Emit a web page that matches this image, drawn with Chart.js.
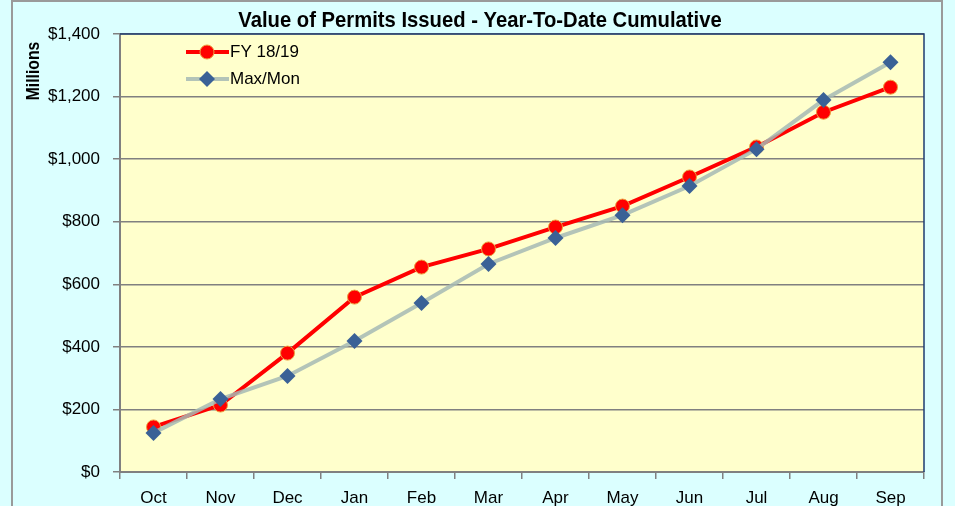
<!DOCTYPE html>
<html>
<head>
<meta charset="utf-8">
<script src="https://cdn.jsdelivr.net/npm/chart.js@4"></script>
<style>
  html, body { margin: 0; padding: 0; background: #dbffff; }
  #wrap { width: 955px; height: 506px; }
</style>
</head>
<body>
<div id="wrap"><canvas id="permitsChart" width="955" height="506"></canvas></div>
<script>
// Data
const months = ['Oct', 'Nov', 'Dec', 'Jan', 'Feb', 'Mar', 'Apr', 'May', 'Jun', 'Jul', 'Aug', 'Sep'];
const fy1819 = [144, 214, 380, 559, 655, 713, 783, 850, 943, 1039, 1150, 1230];
const maxMon = [125, 233, 307, 419, 540, 665, 748, 821, 914, 1032, 1189, 1310];
const chartTitle = 'Value of Permits Issued - Year-To-Date Cumulative';
const yAxisTitle = 'Millions';

const regular = '"Liberation Sans", Arial, sans-serif';

// draws text squeezed horizontally, like Arial Narrow
function narrowText(ctx, text, x, y, squeeze, angle) {
    ctx.save();
    ctx.translate(x, y);
    if (angle) ctx.rotate(angle);
    ctx.scale(squeeze, 1);
    ctx.fillText(text, 0, 0);
    ctx.restore();
}

// background, plot area, frame, title and legend
const frame = {
    id: 'frame',
    beforeDraw(chart) {
        const ctx = chart.ctx;
        const a = chart.chartArea;
        ctx.save();
        ctx.fillStyle = '#dbffff';
        ctx.fillRect(0, 0, chart.width, chart.height);
        ctx.strokeStyle = '#9a9a9a';
        ctx.lineWidth = 2;
        ctx.strokeRect(12, 1, 930, chart.height + 10);
        ctx.fillStyle = '#ffffcc';
        ctx.fillRect(a.left, a.top, a.right - a.left, a.bottom - a.top);
        ctx.restore();
    },
    afterDraw(chart) {
        const ctx = chart.ctx;
        const a = chart.chartArea;
        ctx.save();
        ctx.strokeStyle = '#1f3c70';
        ctx.lineWidth = 1.5;
        ctx.beginPath();
        ctx.moveTo(a.left, a.top);
        ctx.lineTo(a.right, a.top);
        ctx.lineTo(a.right, a.bottom);
        ctx.stroke();

        ctx.fillStyle = '#000';
        ctx.textAlign = 'center';
        ctx.textBaseline = 'middle';
        ctx.font = 'bold 22px ' + regular;
        narrowText(ctx, chartTitle, 480, 21, 0.92);
        ctx.font = 'bold 19px ' + regular;
        narrowText(ctx, yAxisTitle, 34, 71, 0.83, -Math.PI / 2);

        // legend inside plot area
        chart.data.datasets.forEach((ds, i) => {
            const y = a.top + 18 + i * 27;
            const x0 = a.left + 66;
            const cx = x0 + 21;
            ctx.strokeStyle = ds.borderColor;
            ctx.lineWidth = 4;
            ctx.beginPath();
            ctx.moveTo(x0, y);
            ctx.lineTo(x0 + 43, y);
            ctx.stroke();
            ctx.fillStyle = ds.pointBackgroundColor;
            ctx.strokeStyle = ds.pointBorderColor;
            ctx.lineWidth = ds.pointBorderWidth;
            ctx.beginPath();
            if (ds.pointStyle === 'circle') {
                ctx.arc(cx, y, ds.pointRadius, 0, Math.PI * 2);
            } else {
                const r = ds.pointRadius;
                ctx.moveTo(cx, y - r);
                ctx.lineTo(cx + r, y);
                ctx.lineTo(cx, y + r);
                ctx.lineTo(cx - r, y);
                ctx.closePath();
            }
            ctx.fill();
            if (ds.pointBorderWidth) ctx.stroke();
            ctx.fillStyle = '#000';
            ctx.font = '17px ' + regular;
            ctx.textAlign = 'left';
            ctx.fillText(ds.label, x0 + 44, y);
        });
        ctx.restore();
    }
};

const permitsChart = new Chart(document.getElementById('permitsChart'), {
    type: 'line',
    data: {
        labels: months,
        datasets: [
            {
                label: 'FY 18/19',
                data: fy1819,
                borderColor: '#ff0000',
                borderWidth: 4,
                pointStyle: 'circle',
                pointRadius: 7,
                pointBackgroundColor: '#ff0000',
                pointBorderColor: '#eca040',
                pointBorderWidth: 1,
                tension: 0,
                order: 1
            },
            {
                label: 'Max/Mon',
                data: maxMon,
                borderColor: 'rgba(166,186,180,0.85)',
                borderWidth: 4,
                pointStyle: 'rectRot',
                pointRadius: 8,
                pointBackgroundColor: '#3a6196',
                pointBorderColor: '#3a6196',
                pointBorderWidth: 0,
                tension: 0,
                order: 0
            }
        ]
    },
    options: {
        responsive: false,
        animation: false,
        layout: { padding: { left: 0, top: 34, right: 31, bottom: 0 } },
        plugins: {
            legend: { display: false },
            title: { display: false },
            tooltip: { enabled: false }
        },
        scales: {
            x: {
                offset: true,
                grid: { offset: true, drawOnChartArea: false, color: '#808080', lineWidth: 1.5, tickLength: 7 },
                border: { color: '#808080', width: 2 },
                ticks: { color: '#000', font: { family: regular, size: 17 }, padding: 9, maxRotation: 0 },
                afterFit(scale) { scale.height = 34; }
            },
            y: {
                min: 0,
                max: 1400,
                ticks: {
                    stepSize: 200,
                    color: '#000',
                    font: { family: regular, size: 17 },
                    padding: 13,
                    callback: (v) => '$' + v.toLocaleString('en-US')
                },
                grid: { color: '#808080', lineWidth: 1.5, tickLength: 7 },
                border: { color: '#808080', width: 2 },
                afterFit(scale) { scale.width = 120; }
            }
        }
    },
    plugins: [frame]
});
</script>
</body>
</html>
